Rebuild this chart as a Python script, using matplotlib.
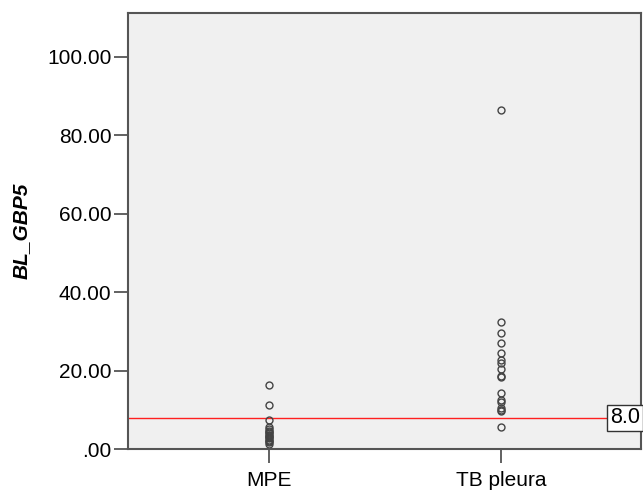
import matplotlib.pyplot as plt
import matplotlib.transforms as mtransforms

plt.rcParams['font.family'] = ['Liberation Sans', 'DejaVu Sans']

groups = ["MPE", "TB pleura"]
mpe_values = [16.3, 11.1, 7.4, 5.5, 5.1, 4.7, 4.3, 4.0, 3.6, 3.3, 3.0,
              2.7, 2.4, 2.1, 1.8, 1.4]
tb_values = [86.5, 32.4, 29.6, 27.1, 24.6, 22.7, 22.0, 20.5, 18.7, 18.3,
             14.2, 12.5, 12.1, 10.5, 10.0, 9.8, 5.7]
cutoff = 8.0
y_ticks = [0, 20, 40, 60, 80, 100]
y_tick_labels = [".00", "20.00", "40.00", "60.00", "80.00", "100.00"]

fig = plt.figure(figsize=(6.43, 4.9), dpi=100)
ax = fig.add_axes([128 / 643, 41 / 490, 513 / 643, 436 / 490])
ax.set_facecolor("#f0f0f0")

for i, vals in enumerate([mpe_values, tb_values]):
    ax.plot([i] * len(vals), vals, linestyle="none", marker="o",
            markersize=5, markerfacecolor="none", markeredgecolor="#444444",
            markeredgewidth=1.0)

# reference line with its value tag at the right edge
ax.axhline(cutoff, color="#ff2020", linewidth=1.0, zorder=1)
trans = mtransforms.blended_transform_factory(ax.transAxes, ax.transData)
ax.text(0.998, cutoff, "%.1f" % cutoff, transform=trans, ha="right",
        va="center", fontsize=15.5, color="black", zorder=5,
        bbox=dict(boxstyle="square,pad=0.12", facecolor="white",
                  edgecolor="#333333", linewidth=1.0))

ax.set_xlim(-0.608, 1.603)
ax.set_ylim(0, 111.2)
ax.set_xticks([0, 1])
ax.set_xticklabels(groups)
ax.set_yticks(y_ticks)
ax.set_yticklabels(y_tick_labels)
ax.tick_params(axis="both", labelsize=15, length=10, width=1.3,
               color="#555555", labelcolor="black", pad=2)
ax.tick_params(axis="x", pad=6)

for sp in ax.spines.values():
    sp.set_color("#555555")
    sp.set_linewidth(1.5)

ax.set_ylabel("BL_GBP5", fontsize=15, fontweight="bold", style="italic",
              labelpad=12)

fig.savefig("out.png", dpi=100)
